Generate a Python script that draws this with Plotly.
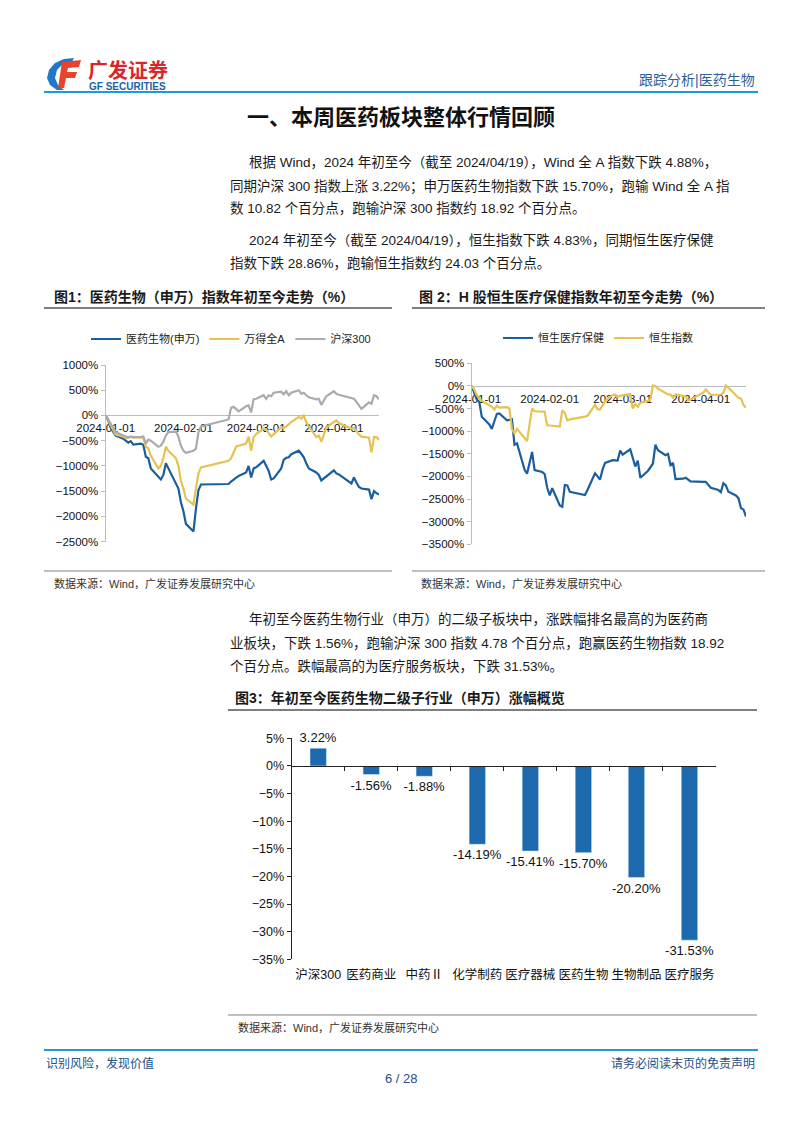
import pandas as pd
import plotly.graph_objects as go

# the page puts the figure 8px in from the top-left corner, so the figure is
# sized to fit and every page pixel is shifted by that offset
OFF = 8
W, H = 802 - 2 * OFF, 1133 - 2 * OFF


def X(p):
    return (p - OFF) / W


def Y(p):
    return 1 - (p - OFF) / H


# ---- data ----
a_holidays = ["2024-02-09", "2024-02-12", "2024-02-13", "2024-02-14", "2024-02-15",
              "2024-02-16", "2024-04-04", "2024-04-05"]
hk_holidays = ["2024-02-12", "2024-02-13", "2024-03-29", "2024-04-01", "2024-04-04"]

a_dates = ["2024-01-01"] + [d.strftime("%Y-%m-%d") for d in pd.bdate_range("2024-01-02", "2024-04-19")
                            if d.strftime("%Y-%m-%d") not in a_holidays]
hk_dates = ["2024-01-01"] + [d.strftime("%Y-%m-%d") for d in pd.bdate_range("2024-01-02", "2024-04-19")
                             if d.strftime("%Y-%m-%d") not in hk_holidays]

sw_pharma = [0,
             -100, -250, -320, -400, -460, -500, -540, -510, -580, -560, -580, -820, -850, -1050,
             -1220, -1270, -1180, -950, -1050, -1330, -1450, -1720,
             -1900, -2150, -2300, -1850, -1480, -1370, -1360, -1310, -1270, -1230, -1200, -1130,
             -1000, -1230, -1050,
             -1030, -900, -1000, -1100, -1270, -1250, -1050, -880, -840, -830, -770, -700, -760,
             -830, -950, -1050, -1130, -1180, -1290, -1250, -1210,
             -1090, -1150, -1170, -1350, -1230, -1330, -1420, -1450, -1470, -1660, -1500, -1540, -1570]
wind_all_a = [0,
              -80, -200, -280, -380, -420, -450, -430, -420, -440, -430, -430, -620, -650, -800,
              -1050, -1000, -850, -620, -700, -850, -1000, -1300,
              -1450, -1650, -1770, -1450, -1150, -1030, -900, -850, -750, -620, -600, -560,
              -420, -700, -430,
              -370, -260, -280, -350, -420, -370, -240, -250, -220, -180, -130, -30, -60,
              0, -130, -220, -430, -400, -520, -370, -240,
              -130, -100, -150, -260, -250, -320, -380, -420, -440, -730, -430, -430, -488]
csi300 = [0,
          -80, -180, -260, -330, -400, -420, -440, -420, -430, -430, -420, -560, -480, -500,
          -620, -600, -520, -400, -330, -320, -420, -600,
          -700, -740, -700, -660, -330, -220, -80, 150, 170, 130, 80, 180, 200, 60, 320,
          330, 400, 330, 400, 380, 450, 470, 420, 480, 400, 450, 500, 430, 450, 400, 360,
          320, 330, 210, 300, 380,
          480, 430, 410, 350, 330, 270, 210, 130, 260, 230, 400, 380, 322]

hs_health = [0,
             -150, -300, -350, -680, -850, -950, -780, -620, -610, -760, -750, -740, -1300, -1270,
             -1850, -1940, -1700, -1460, -1860, -1900, -1950, -2250,
             -2420, -2260, -2640, -2670, -2190, -2200, -2340, -2400, -2410, -2300, -1930, -2000,
             -2070, -1850, -1700, -1640, -1640, -1650, -1430,
             -1520, -1400, -1600, -1780, -1650, -2030, -1880, -1800, -1720, -1300, -1420, -1530,
             -1500, -1750, -1700, -2060, -2050, -2030, -2080, -2110,
             -2120, -2120, -2250, -2300, -2350, -2150, -2200, -2340, -2420, -2480, -2700, -2730, -2886]
hsi = [0,
       -80, -200, -280, -330, -420, -460, -520, -440, -480, -470, -500, -960, -1050, -950,
       -1150, -1220, -850, -500, -560, -580, -570, -870,
       -880, -880, -900, -540, -600, -760, -740, -700, -680, -660, -420, -520, -520, -430,
       -330, -200, -190, -250, -220,
       -210, -180, -500, -400, -460, -370, -330, -300, 10, 0, -60, -170, -190, -190, -260,
       -190, -230, -230, -320, -300,
       -150, -80, -200, -200, -190, -150, 10, -40, -200, -260, -280, -420, -483]

sectors = ["沪深300", "医药商业", "中药Ⅱ", "化学制药", "医疗器械", "医药生物", "生物制品", "医疗服务"]
sector_chg = [3.22, -1.56, -1.88, -14.19, -15.41, -15.70, -20.20, -31.53]

month_ticks = ["2024-01-01", "2024-02-01", "2024-03-01", "2024-04-01"]

# ---- styles ----
BLUE = "#1b5e9f"
GOLD = "#e5c251"
GREY = "#ababab"
BAR = "#1c6aad"
NAVY = "#234f86"
CJK = "Liberation Sans, Noto Sans CJK SC"
NUM = "Liberation Sans, Arial"

traces = [
    go.Scatter(x=a_dates, y=sw_pharma, name="医药生物(申万)", line=dict(color=BLUE, width=2.2),
               xaxis="x", yaxis="y", legend="legend"),
    go.Scatter(x=a_dates, y=wind_all_a, name="万得全A", line=dict(color=GOLD, width=2.2),
               xaxis="x", yaxis="y", legend="legend"),
    go.Scatter(x=a_dates, y=csi300, name="沪深300", line=dict(color=GREY, width=2.2),
               xaxis="x", yaxis="y", legend="legend"),
    go.Scatter(x=hk_dates, y=hs_health, name="恒生医疗保健", line=dict(color=BLUE, width=2.2),
               xaxis="x2", yaxis="y2", legend="legend2"),
    go.Scatter(x=hk_dates, y=hsi, name="恒生指数", line=dict(color=GOLD, width=2.2),
               xaxis="x2", yaxis="y2", legend="legend2"),
    go.Bar(x=sectors, y=sector_chg, marker_color=BAR, width=0.31, showlegend=False,
           text=[f"{v:.2f}%" for v in sector_chg], textposition="outside", cliponaxis=False,
           constraintext="none", textfont=dict(size=13, color="#111", family=NUM),
           xaxis="x3", yaxis="y3"),
]

fig = go.Figure(traces)


def date_axis(x0, x1, zero_y):
    return dict(domain=[X(x0), X(x1)], anchor="free", position=Y(zero_y), type="date",
                range=["2024-01-01", "2024-04-19"], tickmode="array", tickvals=month_ticks,
                ticktext=month_ticks, showgrid=False, zeroline=False, showline=True,
                linecolor="#bdbdbd", linewidth=1.3, ticks="", layer="below traces",
                tickfont=dict(size=11.5, color="#111", family=NUM), ticklabelstandoff=2,
                tickangle=0, automargin=False)


def value_axis(y0, y1, lo, hi, anchor):
    return dict(domain=[Y(y1), Y(y0)], range=[lo, hi], dtick=500, ticksuffix="%", anchor=anchor,
                showgrid=False, zeroline=False, showline=True, linecolor="#bdbdbd", linewidth=1.3,
                ticks="outside", ticklen=4, tickcolor="#bdbdbd", automargin=False,
                tickfont=dict(size=11.5, color="#111", family=NUM))


fig.update_layout(
    width=W, height=H, margin=dict(l=0, r=0, t=0, b=0, autoexpand=False),
    paper_bgcolor="white", plot_bgcolor="rgba(0,0,0,0)", hovermode=False,
    xaxis=date_axis(105.7, 379, 415),
    yaxis=value_axis(365, 541.5, -2500, 1000, "x"),
    xaxis2=date_axis(471.7, 746, 385.9),
    yaxis2=value_axis(363.3, 544.3, -3500, 500, "x2"),
    xaxis3=dict(domain=[X(291.7), X(716)], anchor="free", position=Y(766), range=[-0.5, 7.5],
                showline=True, linecolor="#222", linewidth=1.2, ticks="outside", ticklen=4,
                tickcolor="#222", tickson="boundaries", showgrid=False, zeroline=False,
                tickangle=0, automargin=False,
                ticklabelstandoff=197, tickfont=dict(size=12.5, color="#111", family=CJK)),
    yaxis3=dict(domain=[Y(959.3), Y(738.3)], range=[-35, 5], dtick=5, ticksuffix="%", anchor="x3",
                showline=True, linecolor="#222", linewidth=1.2, ticks="outside", ticklen=4,
                tickcolor="#222", showgrid=False, zeroline=False, automargin=False,
                tickfont=dict(size=12.5, color="#111", family=NUM)),
    legend=dict(orientation="h", x=X(86), y=Y(339), xanchor="left", yanchor="middle",
                font=dict(size=11, color="#222", family=CJK), bgcolor="rgba(0,0,0,0)",
                itemwidth=30),
    legend2=dict(orientation="h", x=X(498), y=Y(338), xanchor="left", yanchor="middle",
                 font=dict(size=11, color="#222", family=CJK), bgcolor="rgba(0,0,0,0)",
                 itemwidth=30),
)


def text(x, y, s, size=13.5, color="#1a1a1a", anchor="left", family=CJK):
    fig.add_annotation(x=X(x), y=Y(y), xref="paper", yref="paper", text=s, showarrow=False,
                       xanchor=anchor, yanchor="middle", font=dict(size=size, color=color, family=family))


def hline(x0, x1, y, color, width):
    fig.add_shape(type="line", xref="paper", yref="paper", x0=X(x0), x1=X(x1), y0=Y(y), y1=Y(y),
                  line=dict(color=color, width=width))


def path(points):
    return "M " + " L ".join(f"{X(a):.5f},{Y(b):.5f}" for a, b in points) + " Z"


# logo
fig.add_shape(type="path", xref="paper", yref="paper", fillcolor="#1f78c8", line_width=0,
              path=path([(74, 58), (64, 59), (55, 63), (49, 70), (47, 78), (50, 85), (57, 90),
                         (64, 90), (58, 85), (55, 78), (57, 70), (63, 64), (72, 62)]))
fig.add_shape(type="path", xref="paper", yref="paper", fillcolor="#e8432d", line_width=0,
              path=path([(62, 62), (81, 60), (79, 67), (68, 68), (67, 72), (77, 72), (75, 78),
                         (66, 78), (64, 88), (58, 88)]))
text(86, 71, "<b>广发证券</b>", size=20, color="#d9252b")
text(87, 86.5, "<b>GF SECURITIES</b>", size=10, color="#1d5fa8", family=NUM)
text(757, 80, "跟踪分析|医药生物", size=14, color="#2f5f95", anchor="right")
hline(44, 758, 92, "#1f9ad6", 2)

# heading
text(401, 117, "<b>一、本周医药板块整体行情回顾</b>", size=22, color="#111", anchor="center")

# paragraphs
text(247, 162, "根据 Wind，2024 年初至今（截至 2024/04/19），Wind 全 A 指数下跌 4.88%，")
text(228, 186, "同期沪深 300 指数上涨 3.22%；申万医药生物指数下跌 15.70%，跑输 Wind 全 A 指")
text(228, 209, "数 10.82 个百分点，跑输沪深 300 指数约 18.92 个百分点。")
text(247, 240, "2024 年初至今（截至 2024/04/19），恒生指数下跌 4.83%，同期恒生医疗保健")
text(228, 263, "指数下跌 28.86%，跑输恒生指数约 24.03 个百分点。")

# figure 1 / 2 frames
text(52, 297, "<b>图1：医药生物（申万）指数年初至今走势（%）</b>", size=14, color="#1a1a1a")
hline(44, 392, 308, "#555555", 1.5)
text(417, 297, "<b>图 2：H 股恒生医疗保健指数年初至今走势（%）</b>", size=14, color="#1a1a1a")
hline(412, 765, 308, "#555555", 1.5)
hline(44, 392, 571, "#aaaaaa", 1.5)
hline(412, 765, 571, "#aaaaaa", 1.5)
text(52, 583, "数据来源：Wind，广发证券发展研究中心", size=11, color="#333")
text(419, 583, "数据来源：Wind，广发证券发展研究中心", size=11, color="#333")

text(247, 619, "年初至今医药生物行业（申万）的二级子板块中，涨跌幅排名最高的为医药商")
text(228, 643, "业板块，下跌 1.56%，跑输沪深 300 指数 4.78 个百分点，跑赢医药生物指数 18.92")
text(228, 666, "个百分点。跌幅最高的为医疗服务板块，下跌 31.53%。")

# figure 3 frame
text(233, 698, "<b>图3：年初至今医药生物二级子行业（申万）涨幅概览</b>", size=14, color="#1a1a1a")
hline(228, 757, 710, "#555555", 1.5)
hline(228, 757, 1015, "#aaaaaa", 1.5)
text(236, 1027, "数据来源：Wind，广发证券发展研究中心", size=11, color="#333")

# footer
hline(44, 758, 1050, "#1f9ad6", 2)
text(44, 1063, "识别风险，发现价值", size=12, color=NAVY)
text(757, 1063, "请务必阅读末页的免责声明", size=12, color=NAVY, anchor="right")
text(401, 1078, "6 / 28", size=13, color=NAVY, anchor="center", family=NUM)

fig.write_html("out.html")
